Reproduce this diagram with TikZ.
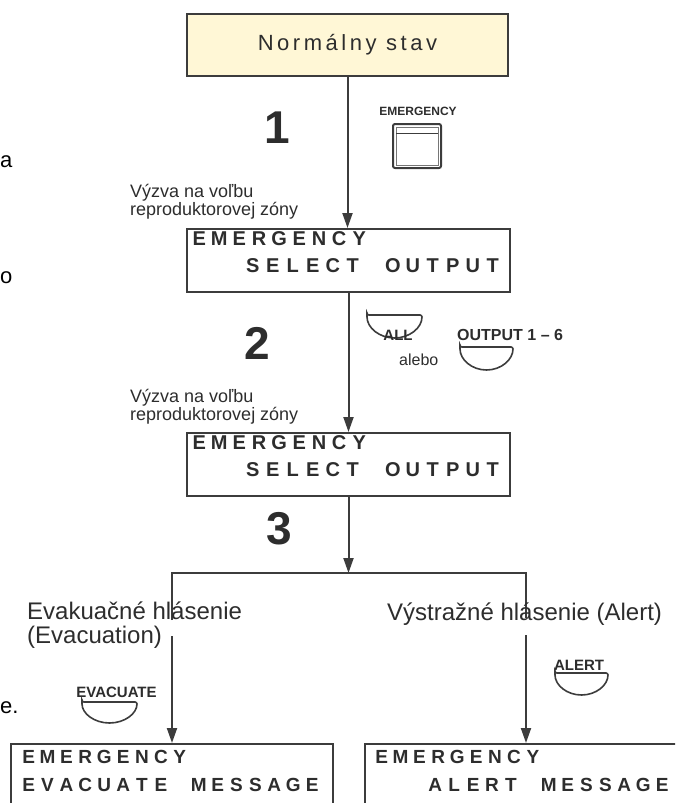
\documentclass[tikz,border=0pt]{standalone}
\usepackage{fontspec}
\setmainfont{Liberation Sans}
\newfontfamily\spacedfont[LetterSpace=16]{Liberation Sans}
\usetikzlibrary{arrows.meta}
\definecolor{ink}{RGB}{60,60,60}
\definecolor{txt}{RGB}{45,45,45}
\definecolor{paleyellow}{RGB}{255,247,214}
\newlength\cellw
% LCD-style text: every character in a cell of equal width, '-' = empty cell
\def\lcdloop#1{\ifx#1\relax\else\ifx#1-\hspace*{\cellw}\else\makebox[\cellw][c]{#1}\fi\expandafter\lcdloop\fi}
\newcommand{\lcdtext}[2]{\setlength\cellw{#1}\lcdloop#2\relax}
\newcommand{\halfbtn}[4]{% cx, top, w, d
  \draw[btn] ({#1-#3/2},#2) -- ({#1+#3/2},#2)
    arc[start angle=0,end angle=180,x radius=#3/2,y radius=#4] -- cycle;}
\begin{document}
\begin{tikzpicture}[x=1pt,y=-1pt,
  line/.style={draw=ink,line width=2pt},
  arr/.style={draw=ink,line width=2pt,-{Triangle[length=15pt,width=10pt]}},
  btn/.style={draw=ink,line width=1.6pt,rounded corners=2pt},
  lcdbox/.style={draw=ink,line width=2pt,minimum width=323pt,minimum height=63pt,inner sep=0pt,anchor=north west},
  lcdbig/.style={inner sep=0pt,text=txt,font=\bfseries\fontsize{20}{24}\selectfont},
  lcdsmall/.style={inner sep=0pt,text=txt,font=\bfseries\fontsize{19}{22}\selectfont},
  note/.style={inner sep=0pt,anchor=base west,text=txt,font=\fontsize{18}{20}\selectfont},
  branchlbl/.style={inner sep=0pt,anchor=base west,text=txt,font=\fontsize{24}{26}\selectfont},
  keylbl/.style={inner sep=0pt,anchor=base,text=txt,font=\bfseries\fontsize{15}{17}\selectfont},
  num/.style={inner sep=0pt,text=txt,font=\bfseries\fontsize{46}{50}\selectfont},
  frag/.style={inner sep=0pt,anchor=base west,text=black,font=\fontsize{22}{24}\selectfont}
]
\useasboundingbox (0,0) rectangle (675,803);
\clip (0,0) rectangle (675,803);

% top state
\node[draw=ink,line width=2pt,fill=paleyellow,minimum width=321pt,minimum height=62pt,
      inner sep=0pt,anchor=north west,text=txt,font=\spacedfont\fontsize{22}{26}\selectfont]
      (normal) at (186,13) {Normálny stav};

% LCD boxes
\node[lcdbox] (box2) at (186,228) {};
\node[lcdbox] (box3) at (186,432) {};
\node[lcdbox,minimum width=322pt,minimum height=90pt] (box4) at (10,743) {};
\node[lcdbox,minimum width=322pt,minimum height=90pt] (box5) at (364,743) {};

\node[lcdbig,anchor=base west] (b2l1) at ([xshift=3pt,yshift=-17pt]box2.north west) {\lcdtext{20pt}{EMERGENCY}};
\node[lcdbig,anchor=base east] (b2l2) at ([xshift=-8pt,yshift=-44pt]box2.north east) {\lcdtext{20pt}{SELECT-OUTPUT}};
\node[lcdbig,anchor=base west] (b3l1) at ([xshift=3pt,yshift=-17pt]box3.north west) {\lcdtext{20pt}{EMERGENCY}};
\node[lcdbig,anchor=base east] (b3l2) at ([xshift=-8pt,yshift=-44pt]box3.north east) {\lcdtext{20pt}{SELECT-OUTPUT}};
\node[lcdsmall,anchor=base west] (b4l1) at ([xshift=9pt,yshift=-20pt]box4.north west) {\lcdtext{18.9pt}{EMERGENCY}};
\node[lcdsmall,anchor=base west] (b4l2) at ([xshift=9pt,yshift=-48pt]box4.north west) {\lcdtext{18.9pt}{EVACUATE-MESSAGE}};
\node[lcdsmall,anchor=base west] (b5l1) at ([xshift=8pt,yshift=-20pt]box5.north west) {\lcdtext{18.9pt}{EMERGENCY}};
\node[lcdsmall,anchor=base west] (b5l2) at ([xshift=5pt,yshift=-48pt]box5.north west) {\lcdtext{18.9pt}{---ALERT-MESSAGE}};

% step numbers
\node[num] (n1) at (277,128) {1};
\node[num] (n2) at (257,343) {2};
\node[num] (n3) at (279,529) {3};

% prompts
\node[note] (v1a) at (130,197) {Výzva na voľbu};
\node[note] (v1b) at (130,215) {reproduktorovej zóny};
\node[note] (v2a) at (130,402) {Výzva na voľbu};
\node[note] (v2b) at (130,420) {reproduktorovej zóny};

% main flow
\draw[arr] (normal.south) -- (normal.south |- box2.north);
\draw[arr] (box2.south) -- (box2.south |- box3.north);
\coordinate (split) at (box3.south |- 0,573);
\draw[arr] (box3.south) -- (split);
\coordinate (lcorner) at (box4.north |- split);
\coordinate (rcorner) at (box5.north |- split);
\coordinate (lstop) at (box4.north |- 0,620);
\coordinate (rstop) at (box5.north |- 0,618);
\coordinate (lgo) at (box4.north |- 0,636);
\coordinate (rgo) at (box5.north |- 0,635);
\draw[line] (lstop) -- (lcorner) -- (rcorner) -- (rstop);
\draw[arr] (lgo) -- (box4.north);
\draw[arr] (rgo) -- (box5.north);

% branch labels
\node[branchlbl] (evak1) at (27,619) {Evakuačné hlásenie};
\node[branchlbl] (evak2) at (27,643) {(Evacuation)};
\node[branchlbl] (alert) at (387,620) {Výstražné hlásenie (Alert)};

% EMERGENCY key
\node[keylbl,font=\bfseries\fontsize{12}{14}\selectfont] (emkey) at (418,115) {EMERGENCY};
\draw[draw=ink,line width=2pt,rounded corners=2pt] (393,124) rectangle (441,168);
\draw[draw=ink!70,line width=0.8pt] (396,127) rectangle (438,165);
\draw[draw=ink,line width=1pt] (396,133) -- (438,133);

% ALL / OUTPUT keys
\halfbtn{394.5}{315}{55}{23}
\node[keylbl] (allk) at (398,340) {ALL};
\node[inner sep=0pt,anchor=base west,text=txt,font=\bfseries\fontsize{16}{18}\selectfont] (outk) at (457,340) {OUTPUT 1 – 6};
\node[inner sep=0pt,anchor=base west,text=txt,font=\fontsize{16}{18}\selectfont] (alebo) at (399,365) {alebo};
\halfbtn{486.5}{347}{53}{23}

% EVACUATE / ALERT keys
\node[keylbl] (evk) at (116.5,697) {EVACUATE};
\halfbtn{109.5}{702}{55}{21}
\node[keylbl] (alk) at (579,670) {ALERT};
\halfbtn{581.5}{673}{53}{22}

% text fragments at the left edge
\node[frag] (fa) at (0,167) {a};
\node[frag] (fo) at (0,283) {o};
\node[frag] (fe) at (0,713) {e.};
\end{tikzpicture}
\end{document}
